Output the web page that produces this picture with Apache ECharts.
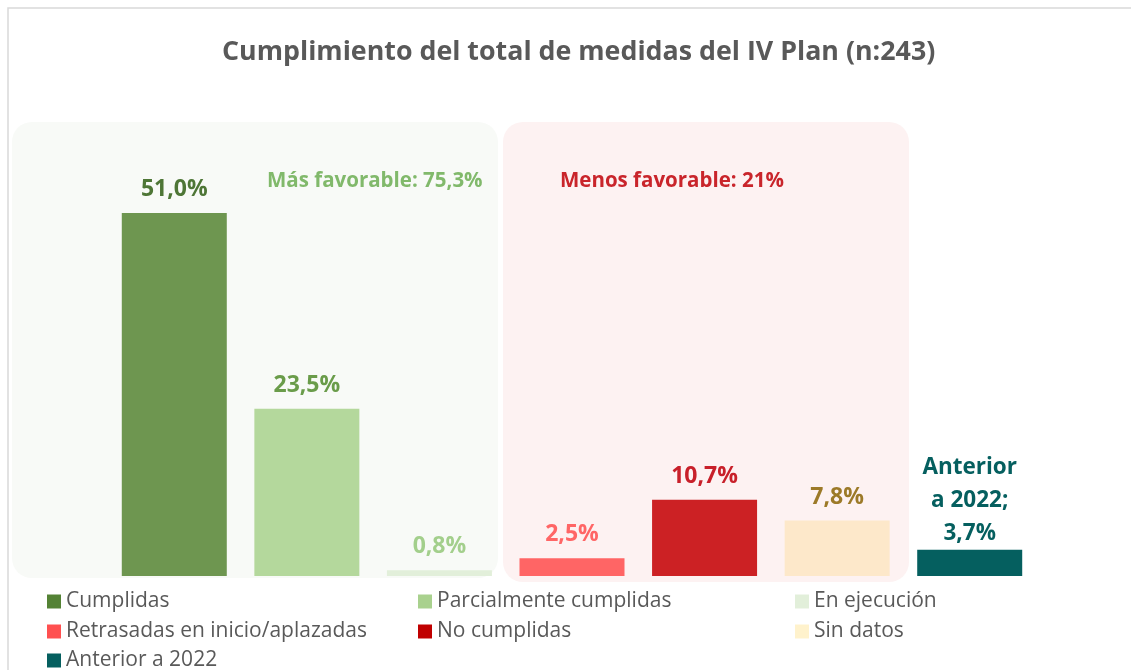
<!DOCTYPE html>
<html>
<head>
<meta charset="utf-8">
<script src="https://cdn.jsdelivr.net/npm/echarts@6/dist/echarts.min.js"></script>
<style>
html,body{margin:0;padding:0;background:#fff;}
#chart{width:1131px;height:670px;}
</style>
</head>
<body>
<div id="chart"></div>
<script>
var categories = ['Cumplidas', 'Parcialmente cumplidas', 'En ejecución', 'Retrasadas en inicio/aplazadas', 'No cumplidas', 'Sin datos', 'Anterior a 2022'];
var values = [51.0, 23.5, 0.8, 2.5, 10.7, 7.8, 3.7];
var barColors = ['#6e9650', '#b4d89c', '#e2efda', '#ff6565', '#cc2124', '#fde8ca', '#055f5f'];
var legendColors = ['#548235', '#a9d18e', '#e2efda', '#ff5050', '#c00000', '#fff2cc', '#055f5f'];
var labelColors = ['#4e7636', '#6a9c4a', '#a3cf8c', '#ff6666', '#c8202a', '#9c7a28', '#055f5f'];
var groupTexts = ['Más favorable: 75,3%', 'Menos favorable: 21%'];

var myChart = echarts.init(document.getElementById('chart'));

var font = '"Open Sans", "Noto Sans", sans-serif';

function fmt(v) {
    return v.toFixed(1).replace('.', ',') + '%';
}

var series = categories.map(function (name, i) {
    var data = categories.map(function (c, j) { return j === i ? values[i] : null; });
    return {
        name: name,
        type: 'bar',
        stack: 'all',
        barWidth: 105,
        data: data,
        itemStyle: {color: barColors[i]},
        label: {
            show: true,
            position: 'top',
            distance: i === 6 ? 0 : 7,
            fontFamily: font,
            fontWeight: 'bold',
            fontSize: i === 6 ? 22.5 : 23,
            lineHeight: 33,
            color: labelColors[i],
            formatter: function (p) {
                return i === 6 ? 'Anterior\na 2022;\n' + fmt(p.value) : fmt(p.value);
            }
        }
    };
});

// one legend per item so the three columns line up
var colX = [47, 418, 795];
var rowY = [591, 621, 650];
var legends = categories.map(function (c, i) {
    return {
        data: [{name: c, itemStyle: {color: legendColors[i]}}],
        left: colX[i % 3],
        top: rowY[Math.floor(i / 3)],
        padding: 0,
        itemWidth: 14,
        itemHeight: 14,
        itemGap: 0,
        icon: 'rect',
        textStyle: {fontFamily: font, fontSize: 21, color: '#595959', padding: [0, 0, 0, 0]}
    };
});

var option = {
    backgroundColor: '#fff',
    animation: false,
    title: {
        text: 'Cumplimiento del total de medidas del IV Plan (n:243)',
        left: 217,
        top: 34,
        textStyle: {fontFamily: font, fontWeight: 'bold', fontSize: 26.8, color: '#595959'}
    },
    graphic: [
        {type: 'rect', z: -10, shape: {x: 8, y: 8, width: 1140, height: 700}, style: {fill: '#fff', stroke: '#d9d9d9', lineWidth: 1.5}},
        {type: 'rect', z: -9, shape: {x: 12, y: 122, width: 486, height: 456, r: 20}, style: {fill: '#f8faf7'}},
        {type: 'rect', z: -9, shape: {x: 503, y: 122, width: 406, height: 460, r: 20}, style: {fill: '#fdf2f2'}},
        {type: 'text', z: 5, left: 267, top: 171, style: {text: groupTexts[0], fontFamily: font, fontWeight: 'bold', fontSize: 20.5, fill: '#81b96b'}},
        {type: 'text', z: 5, left: 560, top: 171, style: {text: groupTexts[1], fontFamily: font, fontWeight: 'bold', fontSize: 20.5, fill: '#c9252b'}}
    ],
    legend: legends,
    grid: {left: 108, right: 95, top: 149, bottom: 94},
    xAxis: {
        type: 'category',
        data: categories,
        axisLine: {show: false},
        axisTick: {show: false},
        axisLabel: {show: false}
    },
    yAxis: {
        type: 'value',
        min: 0,
        max: 60,
        show: false,
        splitLine: {show: false}
    },
    series: series
};
myChart.setOption(option);
</script>
</body>
</html>
